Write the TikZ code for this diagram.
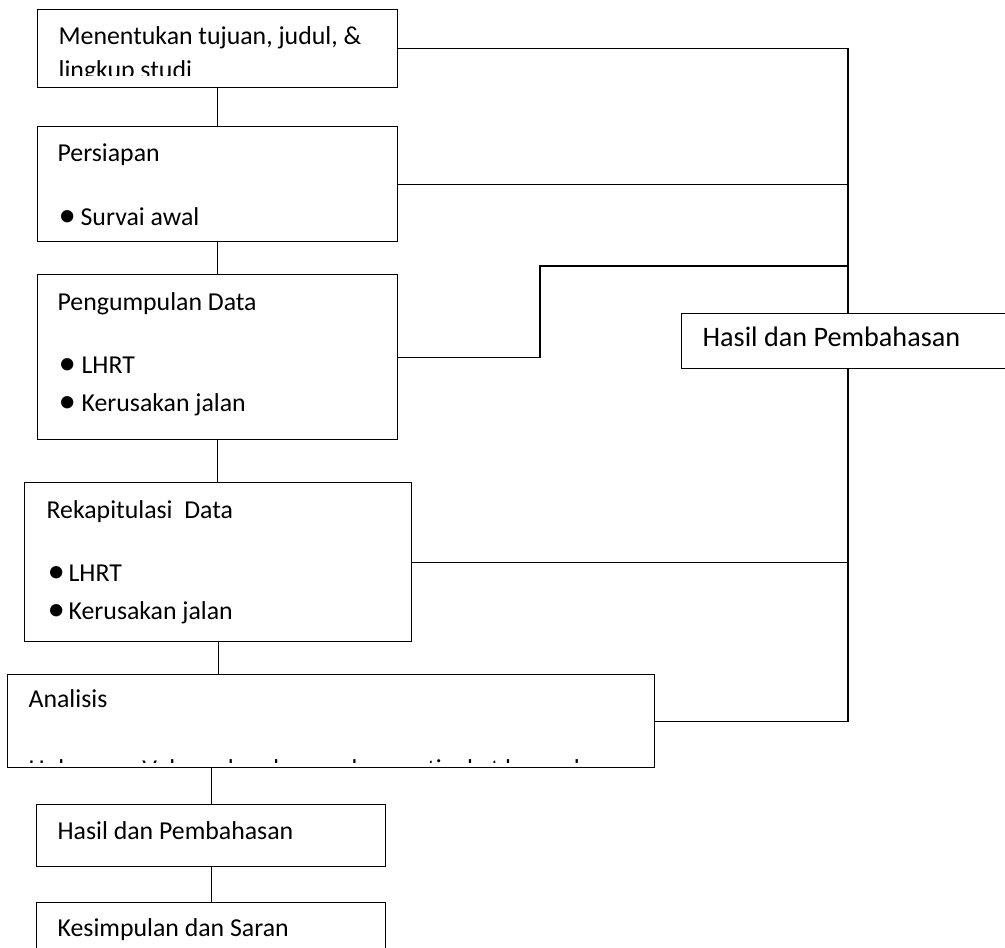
\documentclass[tikz,border=0pt]{standalone}
\usepackage{fontspec}
\setmainfont{Carlito}
\newcommand\bul[2]{\makebox[#1][l]{\raisebox{-0.06em}{\scalebox{1.35}{•}}}#2}
\begin{document}
\begin{tikzpicture}[x=1pt,y=-1pt,line width=1.3pt,
  box/.style={draw,fill=white,inner sep=0pt,anchor=north west},
  lbl/.style={anchor=base west,inner sep=0pt,font=\fontsize{25.8}{30}\selectfont},
  lblbig/.style={lbl,font=\fontsize{28.2}{32}\selectfont}]
\useasboundingbox (0,0) rectangle (1005,948);
\clip (0,0) rectangle (1005,948);
% boxes
\node[box,minimum width=360pt,minimum height=78pt]  (b1) at (37,9) {};
\node[box,minimum width=360pt,minimum height=115pt] (b2) at (37,126) {};
\node[box,minimum width=360pt,minimum height=165pt] (b3) at (37,274) {};
\node[box,minimum width=387pt,minimum height=159pt] (b4) at (24,482) {};
\node[box,minimum width=647pt,minimum height=93pt]  (b5) at (7,674) {};
\node[box,minimum width=349pt,minimum height=62pt]  (b6) at (36,804) {};
\node[box,minimum width=349pt,minimum height=70pt]  (b7) at (36,902) {};
\coordinate (bus) at (848,0);
\coordinate (j) at (540,266);
% connectors
\draw (b1.south) -- (b2.north);
\draw (b2.south) -- (b3.north);
\draw (b3.south) -- (b3.south |- b4.north);
\draw (b4.south) -- (b4.south |- b5.north);
\draw (b6.north |- b5.south) -- (b6.north);
\draw (b6.south) -- (b7.north);
\draw (b1.east) -- (b1.east -| bus) -- (b5.east -| bus) -- (b5.east);
\draw (b2.east) -- (b2.east -| bus);
\draw (b3.east) -| (j) -- (j -| bus);
\draw (b4.east) -- (b4.east -| bus);
\node[box,minimum width=340pt,minimum height=55pt] (hr) at (681,313) {};
% texts
\node[lbl] (t1a) at (58,44) {Menentukan tujuan, judul, \&};
\begin{scope}
  \clip (b1.north west) rectangle (b1.east |- 0,75);
  \node[lbl] (t1b) at (58,78) {lingkup studi};
\end{scope}
\node[lbl] (t2a) at (57,161) {Persiapan};
\node[lbl] (t2b) at (58,225) {\bul{22pt}{Survai awal}};
\node[lbl] (t3a) at (57,310) {Pengumpulan Data};
\node[lbl] (t3b) at (58,373) {\bul{23pt}{LHRT}};
\node[lbl] (t3c) at (58,411) {\bul{23pt}{Kerusakan jalan}};
\node[lbl] (t4a) at (46,518) {Rekapitulasi\ \ Data};
\node[lbl] (t4b) at (47,581) {\bul{21pt}{LHRT}};
\node[lbl] (t4c) at (47,619) {\bul{21pt}{Kerusakan jalan}};
\node[lbl] (t5a) at (28,707) {Analisis};
\begin{scope}
  \clip (b5.north west) rectangle (b5.east |- 0,762);
  \node[lbl] (t5b) at (28,777) {Hubungan Volume kendaraan dengan tingkat kerusakan};
\end{scope}
\node[lbl] (t6) at (57,839) {Hasil dan Pembahasan};
\node[lbl] (t7) at (57,936) {Kesimpulan dan Saran};
\node[lblbig] (thr) at (702,346) {Hasil dan Pembahasan};
\end{tikzpicture}
\end{document}
